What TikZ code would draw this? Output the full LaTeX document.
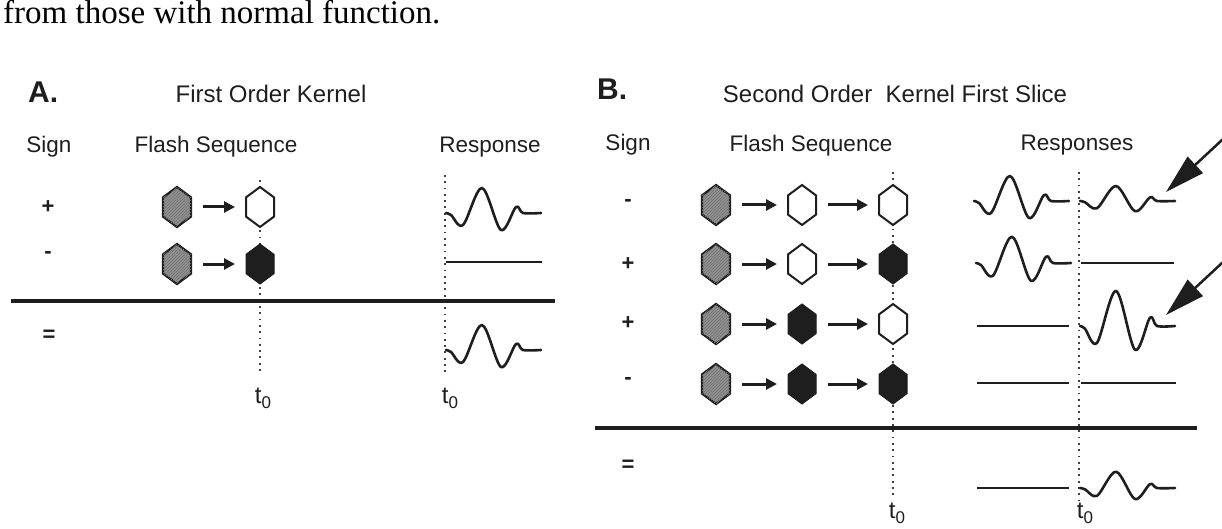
\documentclass[tikz,border=0pt]{standalone}
\usepackage{fontspec}
\newfontfamily\serifx{Liberation Serif}
\newfontfamily\sansx{Liberation Sans}
\usetikzlibrary{arrows.meta,patterns}
\definecolor{ink}{HTML}{1E1E1E}
\definecolor{hexgray}{HTML}{8E8E8E}
\tikzset{
 lbl/.style={font=\sansx\fontsize{22.5}{26}\selectfont, text=ink, inner sep=0pt, anchor=base},
 ttl/.style={font=\sansx\fontsize{24}{28}\selectfont, text=ink, inner sep=0pt, anchor=base},
 panel/.style={font=\sansx\bfseries\fontsize{30}{34}\selectfont, text=ink, inner sep=0pt, anchor=base west},
 sgn/.style={font=\sansx\bfseries\fontsize{22}{26}\selectfont, text=ink, inner sep=0pt},
 tlab/.style={font=\sansx\fontsize{24}{28}\selectfont, text=ink, inner sep=0pt},
 hexbox/.style={minimum width=28pt, minimum height=40pt, inner sep=0pt, outer sep=0pt, draw=none},
 hexg/.style={draw=ink, line width=2.2pt, fill=hexgray, postaction={pattern=north east lines, pattern color=ink!60}},
 hexw/.style={draw=ink, line width=2pt, fill=white},
 hexb/.style={draw=ink, line width=1pt, fill=ink},
 flash/.style={draw=ink, line width=3pt, -{Triangle[length=11pt,width=11pt]}, shorten <=12pt, shorten >=11pt},
 bigarrow/.style={draw=ink, line width=2.5pt, -{Triangle[length=40pt,width=22pt]}},
 hrule/.style={draw=ink, line width=3.5pt},
 dotline/.style={draw=ink!85, line width=1.8pt, dash pattern=on 1.8pt off 4.5pt},
 wave/.style={draw=ink, line width=2.6pt, line join=round, line cap=round},
 flat/.style={draw=ink, line width=2.2pt},
}
\newcommand\hexat[4]{%
 \node[hexbox] (#1) at (#2,#3) {};
 \draw[#4] ([shift={(0,-20)}]#1.center) -- ([shift={(14,-9.6)}]#1.center) -- ([shift={(14,9.6)}]#1.center) -- ([shift={(0,20)}]#1.center) -- ([shift={(-14,9.6)}]#1.center) -- ([shift={(-14,-9.6)}]#1.center) -- cycle;}
\newcommand\respwave[3]{%
 \draw[wave] plot[smooth, tension=0.55] coordinates {(#1,#2) ({#1+5},{#2+2*#3}) ({#1+17},{#2+12*#3}) ({#1+36},{#2-25*#3}) ({#1+55},{#2+17*#3}) ({#1+70},{#2-6*#3}) ({#1+77},#2) ({#1+95},#2)};}
\begin{document}
\begin{tikzpicture}[x=1pt,y=-1pt]
\useasboundingbox (0,0) rectangle (1222,529);
\clip (0,0) rectangle (1222,529);
\fill[white] (0,0) rectangle (1222,529);
% caption line
\node[font=\serifx\fontsize{33}{38}\selectfont, anchor=base west, inner sep=0pt] (cap) at (3,24) {from those with normal function.};
% ---------------- Panel A ----------------
\node[panel] (pA) at (28,103) {A.};
\node[ttl] (tA) at (271,103) {First Order Kernel};
\node[lbl] (sA) at (49,153) {Sign};
\node[lbl] (fA) at (216,153) {Flash Sequence};
\node[lbl] (rA) at (490,153) {Response};
\node[sgn] (sA1) at (48,207) {+};
\node[sgn] (sA2) at (48,255) {-};
\node[sgn] (sA3) at (49,336) {=};
% dotted lines
\coordinate (dA1t) at (260,180); \coordinate (dA1b) at (260,372);
\coordinate (dA2t) at (445,175); \coordinate (dA2b) at (445,372);
\draw[dotline] (dA1t) -- (dA1b);
\draw[dotline] (dA2t) -- (dA2b);
\node[tlab] (tA1) at (263,398) {t\raisebox{-5pt}{\fontsize{17}{17}\selectfont 0}};
\node[tlab] (tA2) at (450,398) {t\raisebox{-5pt}{\fontsize{17}{17}\selectfont 0}};
% hexagons
\hexat{a11}{177}{207}{hexg}
\hexat{a12}{260}{207}{hexw}
\hexat{a21}{177}{264}{hexg}
\hexat{a22}{260}{264}{hexb}
\draw[flash] (a11) -- (a12);
\draw[flash] (a21) -- (a22);
% responses
\respwave{446}{213}{1}
\draw[flat] (446,262) -- (542,262);
\respwave{446}{350}{1}
% rule
\coordinate (lA1) at (11,301); \coordinate (lA2) at (555,301);
\draw[hrule] (lA1) -- (lA2);
% ---------------- Panel B ----------------
\node[panel] (pB) at (597,100) {B.};
\node[ttl] (tB) at (895,103) {Second Order\ \ Kernel First Slice};
\node[lbl] (sB) at (628,151) {Sign};
\node[lbl] (fB) at (811,152) {Flash Sequence};
\node[lbl] (rB) at (1077,151) {Responses};
\node[sgn] (sB1) at (628,203) {-};
\node[sgn] (sB2) at (628,264) {+};
\node[sgn] (sB3) at (628,323) {+};
\node[sgn] (sB4) at (628,381) {-};
\node[sgn] (sB5) at (628,466) {=};
% dotted lines
\coordinate (dB1t) at (893,172); \coordinate (dB1b) at (893,498);
\coordinate (dB2t) at (1079,172); \coordinate (dB2b) at (1079,500);
\draw[dotline] (dB1t) -- (dB1b);
\draw[dotline] (dB2t) -- (dB2b);
\node[tlab] (tB1) at (897,513) {t\raisebox{-5pt}{\fontsize{17}{17}\selectfont 0}};
\node[tlab] (tB2) at (1085,513) {t\raisebox{-5pt}{\fontsize{17}{17}\selectfont 0}};
% hexagons
\hexat{b11}{716}{205}{hexg}
\hexat{b12}{802}{205}{hexw}
\hexat{b13}{893}{205}{hexw}
\hexat{b21}{716}{264}{hexg}
\hexat{b22}{802}{264}{hexw}
\hexat{b23}{893}{264}{hexb}
\hexat{b31}{716}{324}{hexg}
\hexat{b32}{802}{324}{hexb}
\hexat{b33}{893}{324}{hexw}
\hexat{b41}{716}{384}{hexg}
\hexat{b42}{802}{384}{hexb}
\hexat{b43}{893}{384}{hexb}
\foreach \r in {1,2,3,4}{
 \draw[flash] (b\r1) -- (b\r2);
 \draw[flash] (b\r2) -- (b\r3);
}
% responses
\respwave{974}{201}{1}
\respwave{1080}{201}{0.6}
\respwave{976}{263}{1.05}
\draw[flat] (1081,263) -- (1174,263);
\draw[flat] (977,326) -- (1069,326);
\respwave{1080}{326}{1.4}
\draw[flat] (977,383) -- (1069,383);
\draw[flat] (1081,383) -- (1176,383);
\draw[flat] (977,488) -- (1069,488);
\respwave{1080}{488}{0.65}
% rule
\coordinate (lB1) at (595,428); \coordinate (lB2) at (1197,428);
\draw[hrule] (lB1) -- (lB2);
% pointer arrows
\coordinate (p1s) at (1250,114); \coordinate (p1e) at (1166,192);
\coordinate (p2s) at (1250,237); \coordinate (p2e) at (1166,315);
\draw[bigarrow] (p1s) -- (p1e);
\draw[bigarrow] (p2s) -- (p2e);
\end{tikzpicture}
\end{document}
